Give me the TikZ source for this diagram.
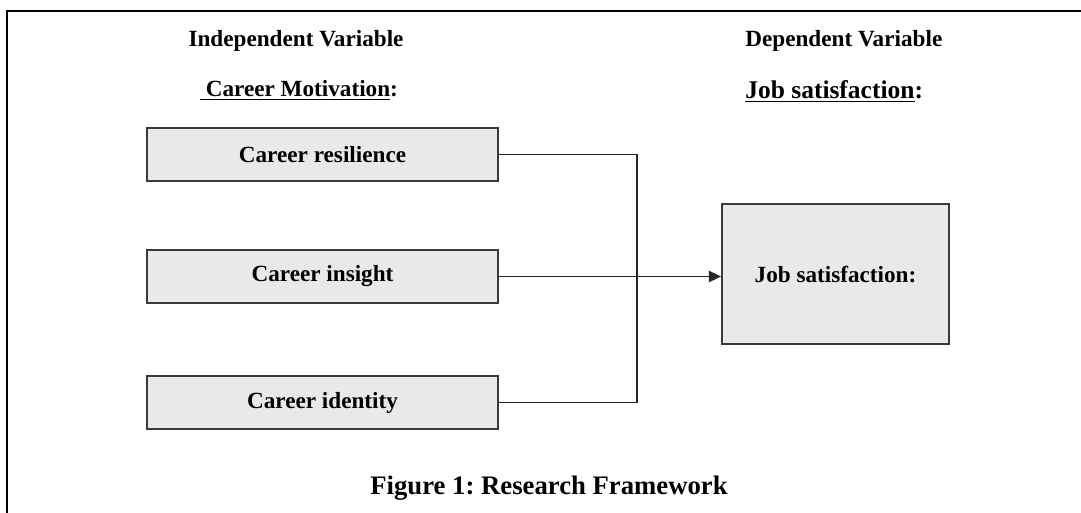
\documentclass[tikz,border=0pt]{standalone}
\usepackage{fontspec}
\setmainfont{Liberation Serif}
\usepackage{xcolor}
\usepackage{tikz}
\usetikzlibrary{arrows.meta,positioning,calc}
\definecolor{boxgray}{HTML}{E9E9E9}
\definecolor{edgegray}{HTML}{3A3A3A}
\frenchspacing

\begin{document}
\begin{tikzpicture}[
    x=0.02cm, y=-0.02cm,
    box/.style={rectangle, draw=edgegray, fill=boxgray, line width=1.1pt, align=center, minimum height=1.06cm, minimum width=7.02cm, inner sep=0pt, font=\fontsize{13.2}{16}\selectfont\bfseries},
    head/.style={inner sep=0pt, font=\fontsize{13.2}{16}\selectfont\bfseries},
    link/.style={line width=0.9pt, draw=black!85},
    arr/.style={-{Triangle[length=7pt, width=6.5pt]}, line width=0.9pt, draw=black!85}
]
    \useasboundingbox (0,0) rectangle (1081,513);
    \draw [line width=1.7pt] (7,513) -- (7,11) -- (1081,11);

    \node [head, anchor=base] (iv) at (296,47) {Independent Variable};
    \node [head, anchor=base] (cm) at (299,97) {\underline{\ Career Motivation}:};
    \node [head, anchor=base west] (dv) at (745,47) {Dependent Variable};
    \node [head, font=\fontsize{14.5}{17}\selectfont\bfseries, anchor=base west] (js) at (745,99) {\underline{Job satisfaction}:};

    \node [box] (n1) at (322.5,154.5) {Career resilience};
    \node [box] (n2) at (322.5,276.5) {Career insight};
    \node [box] (n3) at (322.5,402.5) {Career identity};
    \node [box, minimum width=4.54cm, minimum height=2.8cm] (n4) at (835.5,274) {Job satisfaction:};

    \draw [link] (n1.east) -- ++(138,0) |- (n3.east);
    \draw [arr] (n2.east) -- (n2.east -| n4.west);

    \node [head, font=\fontsize{15.2}{18}\selectfont\bfseries, anchor=base] (cap) at (549,494) {Figure 1: Research Framework};
\end{tikzpicture}
\end{document}
